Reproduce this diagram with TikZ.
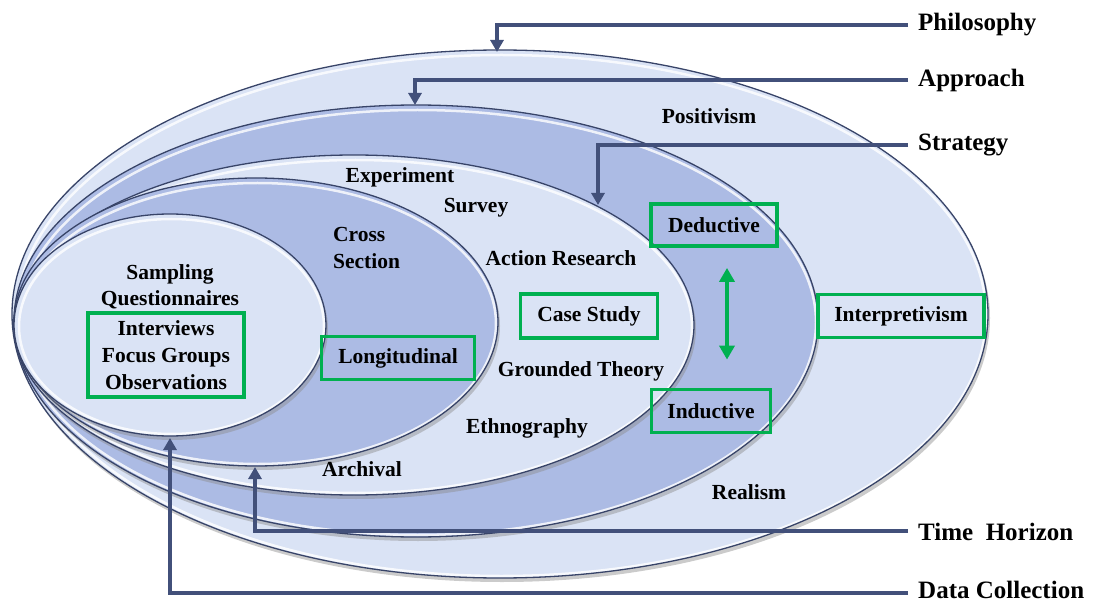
\documentclass[tikz,border=0pt]{standalone}
\usepackage{fontspec}
\setmainfont{Liberation Serif}
\usetikzlibrary{arrows.meta}
\definecolor{lightfill}{RGB}{218,227,245}
\definecolor{darkfill}{RGB}{172,187,228}
\definecolor{navy}{RGB}{66,80,122}
\definecolor{grn}{RGB}{0,176,80}
\tikzset{
  conn/.style={draw=navy,line width=3.6pt,-{Triangle[width=13pt,length=12pt]}},
  side/.style={anchor=west,font=\fontsize{25}{28}\selectfont\bfseries,inner sep=0pt},
  lbl/.style={font=\fontsize{21.5}{27}\selectfont\bfseries,inner sep=0pt,align=center},
  gbox/.style={lbl,draw=grn,line width=3.8pt,inner sep=0pt},
  shadowfill/.style={fill=black!45,opacity=0.45},
  rimline/.style={draw=white,line width=2.5pt,opacity=0.8},
  edge/.style={draw=navy!85!black,line width=1.3pt},
}
\newcommand{\ring}[5]{%
  \fill[shadowfill] (#1+2,#2+4) ellipse [x radius=#3pt,y radius=#4pt];
  \fill[#5] (#1,#2) ellipse [x radius=#3pt,y radius=#4pt];
  \draw[rimline] (#1+1.5,#2+1.5) ellipse [x radius=#3pt-3.5pt,y radius=#4pt-3.5pt];
  \draw[edge] (#1,#2) ellipse [x radius=#3pt,y radius=#4pt];
}
\begin{document}
\begin{tikzpicture}[x=1pt,y=-1pt]
\useasboundingbox (0,0) rectangle (1098,604);
% rings
\ring{500}{314}{488}{264}{lightfill}
\ring{416}{321}{402}{216}{darkfill}
\ring{354}{325}{340}{170}{lightfill}
\ring{256}{322}{242}{144}{darkfill}
\ring{170}{325}{156}{111}{lightfill}

% side labels
\node[side] (philo) at (918,25) {Philosophy};
\node[side] (appr) at (918,80) {Approach};
\node[side] (strat) at (918,145) {Strategy};
\node[side] (timeh) at (918,532) {Time\ \ Horizon};
\node[side] (datac) at (918,590) {Data Collection};

\coordinate (tipP) at (497,52);
\coordinate (tipA) at (415,105);
\coordinate (tipS) at (598,205);
\coordinate (tipT) at (255,467);
\coordinate (tipD) at (170,438);

\draw[conn] ([xshift=-10pt]philo.west) -| (tipP);
\draw[conn] ([xshift=-10pt]appr.west) -| (tipA);
\draw[conn] ([xshift=-10pt]strat.west) -| (tipS);
\draw[conn] ([xshift=-10pt,yshift=1pt]timeh.west) -| (tipT);
\draw[conn] ([xshift=-10pt,yshift=-3pt]datac.west) -| (tipD);

% ring texts
\node[lbl] (posi) at (709,116) {Positivism};
\node[lbl] (real) at (749,492) {Realism};
\node[gbox,minimum width=166pt,minimum height=43pt] (interp) at (901,316) {Interpretivism};
\node[gbox,minimum width=126pt,minimum height=42pt] (deduc) at (714,225) {Deductive};
\node[gbox,minimum width=119pt,minimum height=43pt] (induc) at (711,411) {Inductive};
\draw[draw=grn,line width=3.8pt,{Triangle[width=15pt,length=14pt]}-{Triangle[width=15pt,length=14pt]}] ([yshift=-20pt]deduc.south -| 727,0) -- ([yshift=28pt]induc.north -| 727,0);

\node[lbl] (exper) at (400,177) {Experiment};
\node[lbl] (surv) at (476,208) {Survey};
\node[lbl] (actr) at (561,258) {Action Research};
\node[gbox,minimum width=137pt,minimum height=44pt] (cases) at (589,316) {Case Study};
\node[lbl] (grth) at (581,371) {Grounded Theory};
\node[lbl] (ethn) at (527,428) {Ethnography};
\node[lbl] (arch) at (362,469) {Archival};

\node[lbl,align=left,anchor=north west] (cross) at (333,227) {Cross\\Section};
\node[gbox,minimum width=153pt,minimum height=43pt] (longi) at (398,358) {Longitudinal};

\node[lbl] (samp) at (170,274) {Sampling};
\node[lbl] (quest) at (170,300) {Questionnaires};
\node[gbox,minimum width=156pt,minimum height=84pt] (dcbox) at (166,355) {Interviews\\Focus Groups\\Observations};
\end{tikzpicture}
\end{document}
